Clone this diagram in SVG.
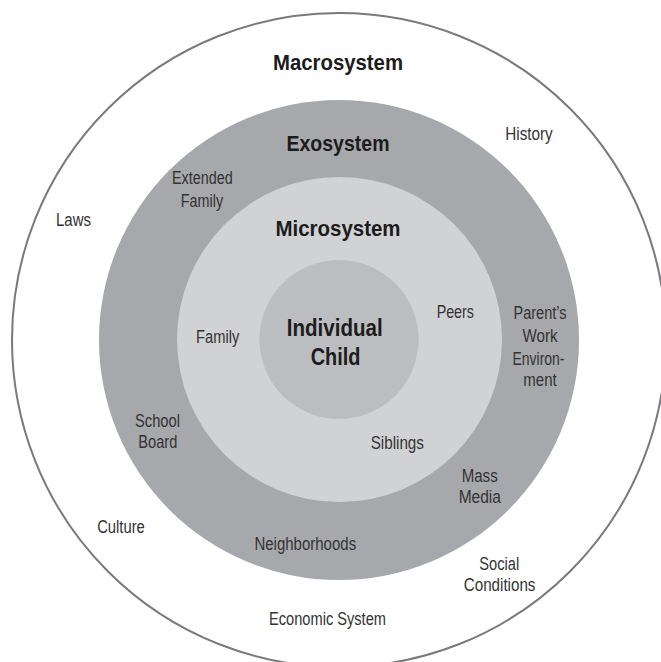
<svg xmlns="http://www.w3.org/2000/svg" width="661" height="662" viewBox="0 0 661 662">
<style>
  text { font-family: "Liberation Sans", Arial, sans-serif; text-anchor: middle; }
  .lbl { font-size: 17.5px; fill: #333333; }
  .ttl { font-size: 22px; font-weight: bold; fill: #1c1c1c; }
  .big { font-size: 23.5px; font-weight: bold; fill: #1c1c1c; }
</style>
<rect x="0" y="0" width="661" height="662" fill="#ffffff"/>
<g id="macrosystem">
  <circle cx="339" cy="340" r="327" fill="#ffffff" stroke="#7a7a7c" stroke-width="2"/>
  <text class="ttl" x="338" y="69.5" textLength="130" lengthAdjust="spacingAndGlyphs">Macrosystem</text>
  <text class="lbl" x="529" y="140" textLength="47.5" lengthAdjust="spacingAndGlyphs">History</text>
  <text class="lbl" x="73.5" y="225.5" textLength="35" lengthAdjust="spacingAndGlyphs">Laws</text>
  <text class="lbl" x="121" y="533.3" textLength="47.7" lengthAdjust="spacingAndGlyphs">Culture</text>
  <text class="lbl" x="499.3" y="570" textLength="40" lengthAdjust="spacingAndGlyphs">Social</text>
  <text class="lbl" x="499.6" y="591" textLength="71.7" lengthAdjust="spacingAndGlyphs">Conditions</text>
  <text class="lbl" x="327.5" y="625.3" textLength="117" lengthAdjust="spacingAndGlyphs">Economic System</text>
</g>
<g id="exosystem">
  <circle cx="339" cy="340" r="240" fill="#a7a8ab"/>
  <text class="ttl" x="338" y="151" textLength="103" lengthAdjust="spacingAndGlyphs">Exosystem</text>
  <text class="lbl" x="202.3" y="184.3" textLength="60.7" lengthAdjust="spacingAndGlyphs">Extended</text>
  <text class="lbl" x="202" y="206.7" textLength="42.3" lengthAdjust="spacingAndGlyphs">Family</text>
  <text class="lbl" x="540" y="318.7" textLength="53" lengthAdjust="spacingAndGlyphs">Parent’s</text>
  <text class="lbl" x="540" y="341.7" textLength="35" lengthAdjust="spacingAndGlyphs">Work</text>
  <text class="lbl" x="538.5" y="365" textLength="52" lengthAdjust="spacingAndGlyphs">Environ-</text>
  <text class="lbl" x="540" y="386" textLength="33.4" lengthAdjust="spacingAndGlyphs">ment</text>
  <text class="lbl" x="157.5" y="426.7" textLength="45" lengthAdjust="spacingAndGlyphs">School</text>
  <text class="lbl" x="157.8" y="448.3" textLength="39" lengthAdjust="spacingAndGlyphs">Board</text>
  <text class="lbl" x="479.7" y="481.7" textLength="36" lengthAdjust="spacingAndGlyphs">Mass</text>
  <text class="lbl" x="479.8" y="503.3" textLength="42.3" lengthAdjust="spacingAndGlyphs">Media</text>
  <text class="lbl" x="305.3" y="549.5" textLength="101.7" lengthAdjust="spacingAndGlyphs">Neighborhoods</text>
</g>
<g id="microsystem">
  <circle cx="339.5" cy="339.5" r="162.5" fill="#d1d2d4"/>
  <text class="ttl" x="338" y="236" textLength="125" lengthAdjust="spacingAndGlyphs">Microsystem</text>
  <text class="lbl" x="217.7" y="342.7" textLength="43.3" lengthAdjust="spacingAndGlyphs">Family</text>
  <text class="lbl" x="455.3" y="318.3" textLength="37.3" lengthAdjust="spacingAndGlyphs">Peers</text>
  <text class="lbl" x="397.3" y="449.3" textLength="53.3" lengthAdjust="spacingAndGlyphs">Siblings</text>
</g>
<g id="individual-child">
  <circle cx="339" cy="339.5" r="79.5" fill="#bcbdc0"/>
  <text class="big" x="334.7" y="336.4" textLength="96" lengthAdjust="spacingAndGlyphs">Individual</text>
  <text class="big" x="335.6" y="365" textLength="49.7" lengthAdjust="spacingAndGlyphs">Child</text>
</g>
</svg>
